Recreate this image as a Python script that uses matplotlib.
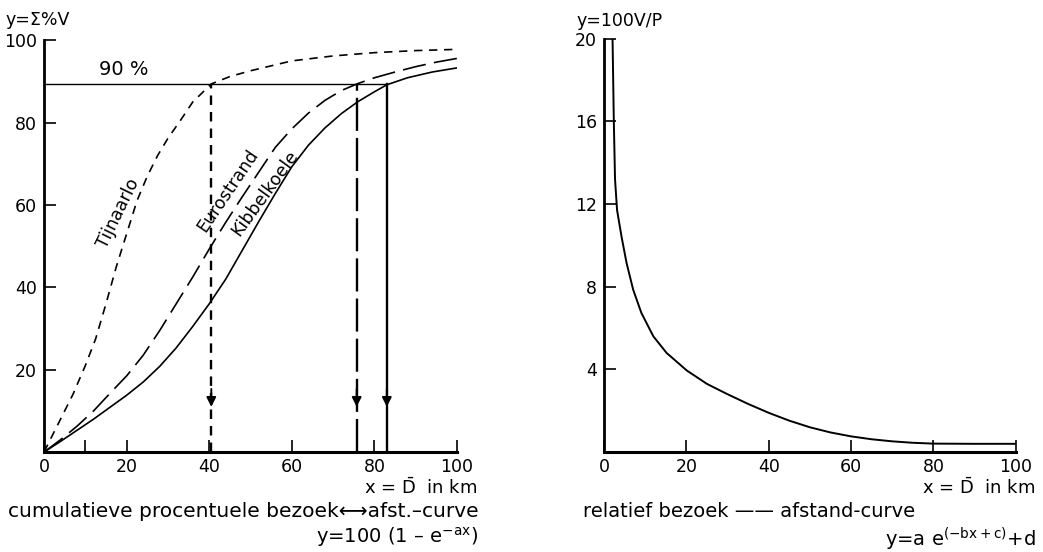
import numpy as np
import matplotlib
matplotlib.use('Agg')
import matplotlib.pyplot as plt

# cumulative visits (%) against distance
tij_x = [0, 4, 7, 10, 12.5, 15, 17.5, 20, 22.5, 25, 27.5, 30, 33, 36, 40.5,
         45, 50, 60, 70, 80, 90, 100]
tij_y = [0, 8, 14, 21, 27.5, 36, 45, 53, 61, 67, 72, 76.2, 80.5, 85, 89.4,
         91.2, 92.6, 95, 96.2, 97, 97.5, 97.8]
euro_x = [0, 4, 8, 12, 16, 20, 24, 28, 32, 36, 40, 44, 48, 52, 56, 60, 64,
          68, 72, 76, 80, 85, 90, 95, 100]
euro_y = [0, 3, 6.3, 10, 14.3, 18.5, 23.5, 29.5, 36, 42.5, 49.3, 55.8, 62, 68,
          74, 78.5, 82.3, 85.4, 87.8, 89.5, 90.9, 92.3, 93.6, 94.7, 95.6]
kib_x = [0, 4, 8, 12, 16, 20, 24, 28, 32, 36, 40, 44, 48, 52, 56, 60, 64, 68,
         72, 76, 80, 83, 88, 94, 100]
kib_y = [0, 2.6, 5.3, 8, 10.9, 13.8, 17, 20.8, 25.3, 30.5, 36, 42, 49, 56,
         62.8, 69.3, 74.5, 78.7, 82.2, 85.1, 87.5, 89.2, 90.9, 92.3, 93.3]

# distance at which 90 % is reached
d90 = [40.5, 75.7, 83]
level90 = 89.3

# relative visits against distance
rel_x = [2.1, 2.4, 2.7, 3.2, 4.3, 5.5, 7.1, 9.1, 12, 15.2, 20.1, 25, 30, 35,
         40, 45, 50, 55, 60, 65, 70, 75, 80, 90, 100]
rel_y = [20, 16.1, 13.2, 11.7, 10.4, 9.15, 7.86, 6.73, 5.6, 4.8, 3.95, 3.3,
         2.8, 2.33, 1.9, 1.52, 1.2, 0.95, 0.76, 0.62, 0.52, 0.45, 0.41, 0.4, 0.4]

plt.rcParams['font.family'] = 'DejaVu Sans'
fig = plt.figure(figsize=(10.43, 5.52), dpi=100)

ax1 = fig.add_axes([0.0422, 0.181, 0.396, 0.746])
ax2 = fig.add_axes([0.579, 0.181, 0.395, 0.749])

short = (0, (5, 4))
long_ = (0, (14, 5))

#Left plot
ax1.plot(tij_x, tij_y, color='black', lw=1.2, linestyle=short)
ax1.plot(euro_x, euro_y, color='black', lw=1.2, linestyle=long_)
ax1.plot(kib_x, kib_y, color='black', lw=1.2)
ax1.plot([0, d90[2]], [level90, level90], color='black', lw=1.0)

styles = [(0, (4, 3)), (0, (14, 3)), '-']
for d, ls in zip(d90, styles):
    ax1.plot([d, d], [0, level90], color='black', lw=1.7, linestyle=ls)
    ax1.annotate('', xy=(d, 10.3), xytext=(d, 16),
                 arrowprops=dict(arrowstyle='-|>', color='black', lw=1.4,
                                 mutation_scale=14))

ax1.text(19.4, 90.6, '90 %', fontsize=14, ha='center', va='bottom')
ax1.text(17.9, 58.0, 'Tijnaarlo', fontsize=12.5, ha='center', va='center', rotation=64)
ax1.text(44.6, 63.4, 'Eurostrand', fontsize=12.5, ha='center', va='center', rotation=56)
ax1.text(53.6, 62.9, 'Kibbelkoele', fontsize=12.5, ha='center', va='center', rotation=54)

ax1.set_xlim(0, 100)
ax1.set_ylim(0, 100)
ax1.set_xticks([0, 10, 20, 40, 60, 80, 100])
ax1.set_xticklabels(['0', '', '20', '40', '60', '80', '100'])
ax1.set_yticks([20, 40, 60, 80, 100])

#Right plot
ax2.plot(rel_x, rel_y, color='black', lw=1.4)
ax2.set_xlim(0, 100)
ax2.set_ylim(0, 20)
ax2.set_xticks([0, 20, 40, 60, 80, 100])
ax2.set_yticks([4, 8, 12, 16, 20])

for ax in (ax1, ax2):
    for s in ['top', 'right']:
        ax.spines[s].set_visible(False)
    ax.spines['left'].set_linewidth(2)
    ax.spines['bottom'].set_linewidth(2.2)
    ax.tick_params(direction='in', length=8.5, width=1.2, labelsize=12.5)
    ax.tick_params(axis='x', pad=4)
    ax.tick_params(axis='y', pad=5)

fig.text(0.005, 0.964, 'y=Σ%V', fontsize=12.5, ha='left', va='center')
fig.text(0.553, 0.962, 'y=100V/P', fontsize=12.5, ha='left', va='center')

xlab = r'x = $\bar{\mathrm{D}}$  in km'
fig.text(0.457, 0.136, xlab, fontsize=13, ha='right', va='top')
fig.text(0.992, 0.136, xlab, fontsize=13, ha='right', va='top')

fig.text(0.008, 0.073, 'cumulatieve procentuele bezoek⟷afst.–curve', fontsize=14.5,
         ha='left', va='center')
fig.text(0.458, 0.027, r'y=100 (1 – e$^{\mathregular{-ax}}$)', fontsize=14,
         ha='right', va='center')

fig.text(0.559, 0.073, 'relatief bezoek —— afstand-curve', fontsize=14,
         ha='left', va='center')
fig.text(0.993, 0.022, r'y=a e$^{\mathregular{(-bx+c)}}$+d', fontsize=14,
         ha='right', va='center')

plt.savefig('out.png', dpi=100)
